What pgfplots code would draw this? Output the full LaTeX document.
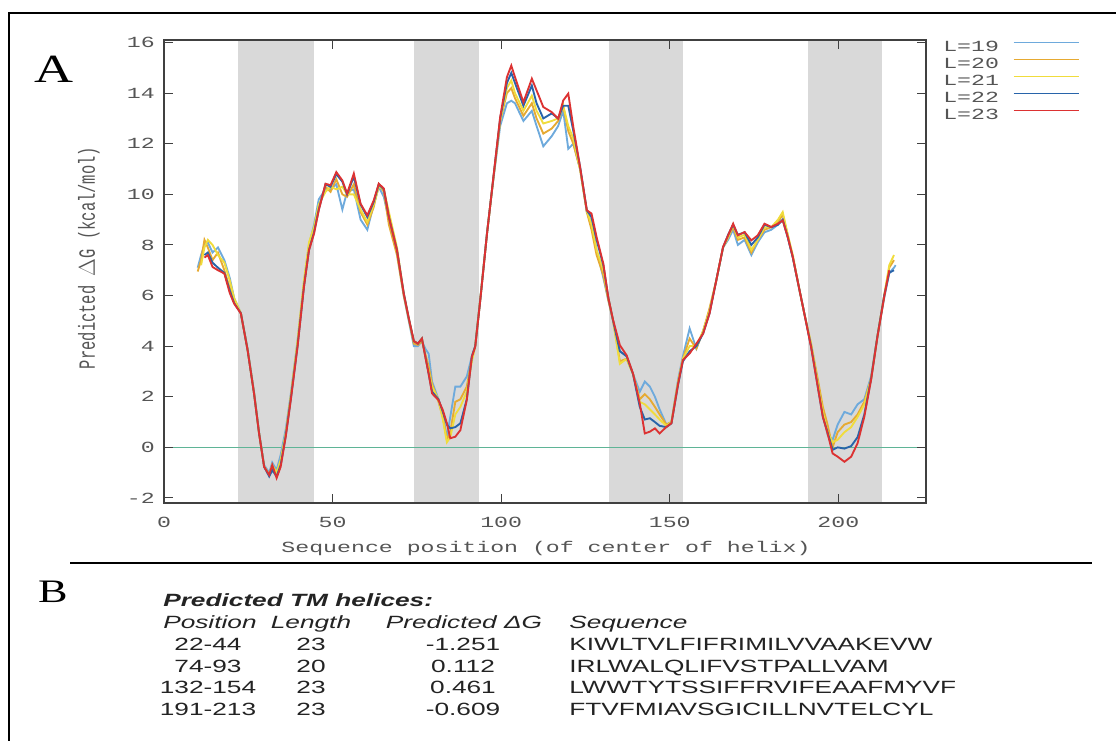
\documentclass[border=0pt]{standalone}
\usepackage{pgfplots}
\pgfplotsset{compat=1.18}
\usepackage{pgfplotstable}
\usepackage{fontspec}
\setmainfont{Liberation Sans}
\newfontfamily\monoS[FakeStretch=1.5]{Liberation Mono}
\newfontfamily\monoR[FakeStretch=0.667]{Liberation Mono}
\newfontfamily\sansS[FakeStretch=1.48]{Liberation Sans}
\newfontfamily\serifS[FakeStretch=1.35]{Liberation Serif}

\definecolor{lnineteen}{RGB}{110,170,220}
\definecolor{ltwenty}{RGB}{230,170,50}
\definecolor{ltwentyone}{RGB}{240,220,60}
\definecolor{ltwentytwo}{RGB}{40,100,170}
\definecolor{ltwentythree}{RGB}{220,50,50}
\definecolor{bandgray}{RGB}{217,217,217}
\definecolor{zerocol}{RGB}{95,180,150}
\definecolor{tickgray}{RGB}{85,85,85}
\definecolor{txt}{RGB}{35,35,35}

\pgfplotstableread{
x a b c d e
10.0 7.10 6.95 nan nan nan
11.0 7.60 7.40 7.20 nan nan
12.0 8.00 8.20 7.90 7.60 7.50
13.0 8.10 7.90 8.20 7.70 7.60
14.4 7.70 7.40 8.00 7.30 7.13
16.0 7.90 7.70 7.60 7.10 7.00
17.9 7.40 7.00 7.30 6.90 6.87
19.5 6.70 6.30 6.60 6.20 6.10
20.8 5.90 5.80 5.90 5.70 5.68
22.8 5.30 5.30 5.30 5.30 5.29
24.8 3.90 3.85 3.85 3.84 3.84
26.7 2.20 2.15 2.15 2.13 2.13
28.2 0.60 0.55 0.55 0.55 0.55
29.7 -0.70 -0.75 -0.75 -0.77 -0.77
31.2 -1.00 -1.10 -1.10 -1.15 -1.09
32.1 -0.60 -0.80 -0.70 -0.90 -0.70
33.4 -0.90 -1.10 -1.00 -1.15 -1.21
34.6 -0.30 -0.60 -0.50 -0.70 -0.77
36.1 0.70 0.50 0.55 0.45 0.42
37.6 2.10 2.00 2.00 1.90 1.87
39.6 4.20 4.10 4.20 4.00 3.97
41.5 6.50 6.40 6.60 6.35 6.34
43.0 8.00 7.90 8.10 7.80 7.79
44.5 8.80 8.60 8.70 8.50 8.45
45.9 9.80 9.50 9.60 9.40 9.37
47.9 10.20 10.30 10.10 10.40 10.42
49.4 10.20 10.10 10.30 10.30 10.36
51.1 10.40 10.60 10.20 10.80 10.88
52.9 9.40 10.00 10.30 10.50 10.55
54.3 10.10 9.90 10.00 10.00 10.03
56.3 10.20 10.40 10.00 10.70 10.82
58.3 9.00 9.30 9.40 9.60 9.63
60.3 8.60 8.80 8.90 9.10 9.17
62.2 9.60 9.50 9.60 9.70 9.76
63.7 10.30 10.40 10.30 10.40 10.42
65.2 9.90 10.10 10.20 10.20 10.23
66.7 9.00 8.80 9.30 9.10 9.10
69.1 7.70 7.60 7.90 7.80 7.79
71.1 6.00 6.00 6.10 6.10 6.08
72.6 5.00 5.05 5.10 5.10 5.10
74.1 4.00 4.10 4.20 4.20 4.20
75.3 4.00 4.05 4.10 4.10 4.10
76.5 4.20 4.20 4.30 4.30 4.30
77.5 3.90 3.70 3.60 3.60 3.58
78.5 3.70 3.20 3.00 2.90 2.90
79.5 2.60 2.50 2.40 2.20 2.13
81.4 1.90 1.80 1.90 1.90 1.87
82.7 1.30 1.20 1.10 1.40 1.47
83.9 0.40 0.30 0.20 0.90 0.95
84.9 1.20 0.60 0.40 0.75 0.36
86.4 2.40 1.80 1.30 0.80 0.42
87.9 2.40 1.90 1.60 0.95 0.68
89.8 2.80 2.40 2.20 1.90 1.87
91.3 3.60 3.50 3.40 3.60 3.58
92.3 4.00 4.00 4.00 4.00 3.97
93.8 5.90 5.85 5.85 5.82 5.82
95.8 8.50 8.45 8.45 8.45 8.45
97.7 10.60 10.65 10.65 10.68 10.68
99.7 12.70 12.90 12.90 13.00 13.05
101.7 13.60 14.00 14.20 14.40 14.63
103.0 13.70 14.20 14.50 14.80 15.09
104.1 13.60 13.80 14.00 14.40 14.63
106.6 12.90 13.10 13.30 13.50 13.64
109.1 13.30 13.60 13.90 14.30 14.57
110.5 12.70 13.00 13.30 13.60 14.11
112.5 11.90 12.40 12.80 13.00 13.45
115.0 12.30 12.60 12.90 13.20 13.25
116.9 12.70 12.90 13.00 13.00 12.99
118.4 13.30 13.50 13.50 13.50 13.71
119.9 11.80 12.50 12.70 13.50 13.98
121.4 12.00 12.00 12.20 12.50 12.66
123.4 11.00 11.00 11.00 11.10 11.08
125.4 9.30 9.30 9.35 9.37 9.37
126.8 8.90 8.60 8.80 9.10 9.24
128.3 7.80 7.60 7.80 8.20 8.31
130.3 6.70 6.80 7.00 7.20 7.26
131.8 5.80 5.80 5.90 5.90 5.90
133.2 5.00 5.00 5.00 5.00 5.03
135.2 3.80 3.40 3.30 3.80 4.04
137.2 3.60 3.50 3.50 3.60 3.64
139.1 2.90 2.90 2.90 2.90 2.92
141.1 2.20 1.90 1.80 1.60 1.74
142.6 2.60 2.10 1.70 1.10 0.55
144.1 2.40 1.90 1.50 1.15 0.62
145.6 2.00 1.60 1.30 1.00 0.75
147.0 1.50 1.30 1.10 0.85 0.55
149.0 0.90 0.90 0.85 0.80 0.81
150.5 1.00 1.00 1.00 0.95 0.95
152.5 2.70 2.60 2.60 2.50 2.53
153.9 3.60 3.50 3.50 3.40 3.45
155.9 4.70 4.30 4.00 3.80 3.71
157.9 3.90 3.90 4.00 4.00 4.10
159.9 4.60 4.60 4.60 4.50 4.50
161.8 5.40 5.50 5.40 5.30 5.29
163.8 6.60 6.60 6.60 6.60 6.60
165.8 7.90 7.90 7.90 7.90 7.92
167.3 8.20 8.30 8.30 8.40 8.38
168.8 8.60 8.70 8.80 8.80 8.84
170.2 8.00 8.20 8.30 8.40 8.38
172.2 8.20 8.30 8.40 8.50 8.51
174.2 7.60 7.70 7.80 8.00 8.18
176.1 8.10 8.20 8.20 8.30 8.38
178.1 8.50 8.60 8.70 8.80 8.84
180.1 8.60 8.70 8.70 8.70 8.71
182.1 8.80 8.90 9.00 8.80 8.84
183.5 9.00 9.20 9.30 9.00 8.97
185.0 8.30 8.40 8.40 8.30 8.31
186.5 7.50 7.50 7.60 7.50 7.52
188.5 6.20 6.20 6.20 6.20 6.20
189.9 5.30 5.30 5.30 5.30 5.29
191.9 4.00 4.10 4.10 4.00 3.97
193.9 2.60 2.70 2.50 2.40 2.39
195.4 1.40 1.60 1.40 1.20 1.21
196.8 0.50 0.90 0.60 0.60 0.55
198.3 0.30 0.00 0.20 -0.10 -0.24
199.8 0.90 0.60 0.30 0.00 -0.37
201.8 1.40 0.90 0.60 -0.05 -0.57
203.8 1.30 1.00 0.80 0.05 -0.37
205.7 1.70 1.30 1.20 0.40 0.16
207.7 1.90 1.80 1.70 1.30 1.21
209.7 2.80 2.70 2.70 2.70 2.66
211.6 4.40 4.40 4.40 4.40 4.37
213.6 5.90 6.00 6.00 6.00 5.95
215.1 6.90 7.10 7.20 6.90 7.00
216.5 7.10 7.40 7.60 7.00 nan
217.0 7.20 nan nan nan nan
}\dgdata

\begin{document}
\begin{tikzpicture}
\useasboundingbox (0,0) rectangle (837pt,-555pt);
\begin{axis}[
  at={(123pt,-30pt)}, anchor=north west,
  scale only axis, width=571.5pt, height=347.25pt,
  xmin=0, xmax=226, ymin=-2.2, ymax=16.1,
  axis on top,
  axis line style={line width=1.2pt, draw=black!75},
  tick align=inside, xtick pos=both, ytick pos=both,
  xticklabel pos=lower, yticklabel pos=left,
  major tick length=6.5pt,
  tick style={line width=0.8pt, draw=black!75},
  xtick={0,50,100,150,200}, xticklabels={0,50,100,150,200},
  ytick={-2,0,2,4,6,8,10,12,14,16},
  yticklabels={-2,0,2,4,6,8,10,12,14,16},
  xticklabel style={font=\monoS\fontsize{11.6}{13}\selectfont, text=tickgray, anchor=center, inner sep=0pt, yshift=-14.25pt},
  yticklabel style={font=\monoS\fontsize{11.6}{13}\selectfont, text=tickgray, anchor=east, inner sep=0pt, xshift=-6.75pt},
  legend plot pos=right,
  legend cell align=left,
  legend style={at={(1.0223,0.998)}, anchor=north west, draw=none, fill=none,
    inner sep=0pt, row sep=3.75pt, column sep=10.5pt,
    font=\monoS\fontsize{11.6}{13}\selectfont, text=tickgray,
    nodes={inner sep=0pt, text height=8pt, text depth=1pt}},
  legend image code/.code={\draw[#1, line width=1pt] (0pt,3.5pt) -- (48.75pt,3.5pt);},
  every axis plot/.append style={line width=1.4pt},
]
\fill[bandgray] (axis cs:22,-2.2) rectangle (axis cs:44.5,16.1);
\fill[bandgray] (axis cs:74,-2.2) rectangle (axis cs:93.5,16.1);
\fill[bandgray] (axis cs:132,-2.2) rectangle (axis cs:154,16.1);
\fill[bandgray] (axis cs:191,-2.2) rectangle (axis cs:213,16.1);
\addplot[zerocol, line width=1.1pt, forget plot] coordinates {(0,0) (226,0)};
\addplot[lnineteen] table[x=x,y=a]{\dgdata};
\addlegendentry{L=19}
\addplot[ltwenty] table[x=x,y=b]{\dgdata};
\addlegendentry{L=20}
\addplot[ltwentyone] table[x=x,y=c]{\dgdata};
\addlegendentry{L=21}
\addplot[ltwentytwo] table[x=x,y=d]{\dgdata};
\addlegendentry{L=22}
\addplot[ltwentythree] table[x=x,y=e]{\dgdata};
\addlegendentry{L=23}
\end{axis}
\begin{scope}[x=0.75pt,y=-0.75pt]
\draw[line width=1.5pt] (9,745) -- (9,12.5) -- (1120,12.5);
\draw[line width=0.9pt] (70,563) -- (1092,563);
\node[font=\serifS\fontsize{30}{32}\selectfont, text=black] at (54,69) {A};
\node[font=\serifS\fontsize{24.6}{27}\selectfont, text=black] at (53,592) {B};
\node[font=\monoS\fontsize{11.6}{13}\selectfont, text=tickgray] at (546,548) {Sequence position (of center of helix)};
\node[font=\monoR\fontsize{17.4}{19}\selectfont, text=tickgray, rotate=90] at (89,258) {Predicted $\Delta$G (kcal/mol)};
\begin{scope}[every node/.style={text=txt, inner sep=0pt, font=\sansS\fontsize{13.3}{15}\selectfont}]
\node[anchor=base west, font=\sansS\fontsize{13.3}{15}\selectfont\bfseries\itshape] at (163,606) {Predicted TM helices:};
\node[anchor=base west, font=\sansS\fontsize{13.3}{15}\selectfont\itshape] at (163,628) {Position};
\node[anchor=base, font=\sansS\fontsize{13.3}{15}\selectfont\itshape] at (311,628) {Length};
\node[anchor=base, font=\sansS\fontsize{13.3}{15}\selectfont\itshape] at (464,628) {Predicted ΔG};
\node[anchor=base west, font=\sansS\fontsize{13.3}{15}\selectfont\itshape] at (569,628) {Sequence};
\node[anchor=base] at (208,650) {22-44};
\node[anchor=base] at (311,650) {23};
\node[anchor=base] at (463,650) {-1.251};
\node[anchor=base west] at (569,650) {KIWLTVLFIFRIMILVVAAKEVW};
\node[anchor=base] at (208,672) {74-93};
\node[anchor=base] at (311,672) {20};
\node[anchor=base] at (463,672) {0.112};
\node[anchor=base west] at (569,672) {IRLWALQLIFVSTPALLVAM};
\node[anchor=base] at (208,693.5) {132-154};
\node[anchor=base] at (311,693.5) {23};
\node[anchor=base] at (463,693.5) {0.461};
\node[anchor=base west] at (569,693.5) {LWWTYTSSIFFRVIFEAAFMYVF};
\node[anchor=base] at (208,715) {191-213};
\node[anchor=base] at (311,715) {23};
\node[anchor=base] at (463,715) {-0.609};
\node[anchor=base west] at (569,715) {FTVFMIAVSGICILLNVTELCYL};
\end{scope}
\end{scope}
\end{tikzpicture}
\end{document}
